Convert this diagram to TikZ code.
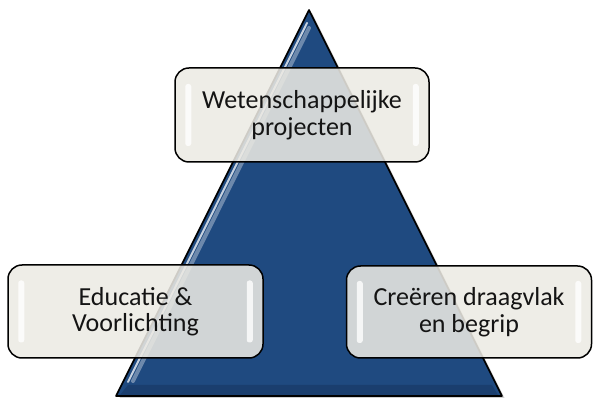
\documentclass[tikz,border=0pt]{standalone}
\usepackage{fontspec}
\setmainfont{Carlito}
\usetikzlibrary{calc,shadows,fadings}
\definecolor{pyrblue}{RGB}{31,74,128}
\definecolor{pyrdark}{RGB}{22,52,94}
\definecolor{boxfill}{RGB}{236,234,227}
\definecolor{txt}{RGB}{20,20,20}
\tikzset{
  pyramid/.style={draw=black,line width=1.6pt,line join=round,fill=pyrblue},
  levelbox/.style={draw=black,line width=1.5pt,rounded corners=14pt,fill=boxfill,fill opacity=0.87,
    text opacity=1,text=txt,align=center,font=\fontsize{26}{26.5}\selectfont,inner sep=0pt},
  gloss/.style={fill=white,fill opacity=0.8,draw=none,rounded corners=2.5pt}
}
\begin{document}
\begin{tikzpicture}[x=1pt,y=1pt]
\useasboundingbox (0,0) rectangle (593,398);
% pyramid
\coordinate (apex) at (309,388);
\coordinate (bl) at (116,2);
\coordinate (br) at (502,2);
\fill[black,opacity=0.18] ($(apex)+(3,-3)$) -- ($(br)+(3,-3)$) -- ($(bl)+(3,-3)$) -- cycle;
\draw[pyramid] (apex) -- (br) -- (bl) -- cycle;
% bevel shading at bottom
\fill[pyrdark,opacity=0.5] (bl) ++(4,1) -- ++(378,0) -- ++(-6,10) -- ++(-364,0) -- cycle;
% highlight along left edge
\draw[white,opacity=0.75,line width=2pt,line cap=round] (307,375) -- (128,16);
\draw[white,opacity=0.35,line width=4pt,line cap=round] (309,370) -- (133,17);
% boxes
\node[levelbox,minimum width=254pt,minimum height=94pt] (top) at (302,283) {Wetenschappelijke\\projecten};
\node[levelbox,minimum width=255pt,minimum height=93pt] (left) at (135.5,86.5) {Educatie \&\\Voorlichting};
\node[levelbox,minimum width=245pt,minimum height=92pt] (right) at (469,86) {Creëren draagvlak\\en begrip};
% glossy vertical bars
\foreach \b in {top,left,right}{
  \fill[gloss] ($(\b.west)+(11,-31)$) rectangle ($(\b.west)+(17,31)$);
  \fill[gloss] ($(\b.east)+(-17,-31)$) rectangle ($(\b.east)+(-11,31)$);
}
\end{tikzpicture}
\end{document}
